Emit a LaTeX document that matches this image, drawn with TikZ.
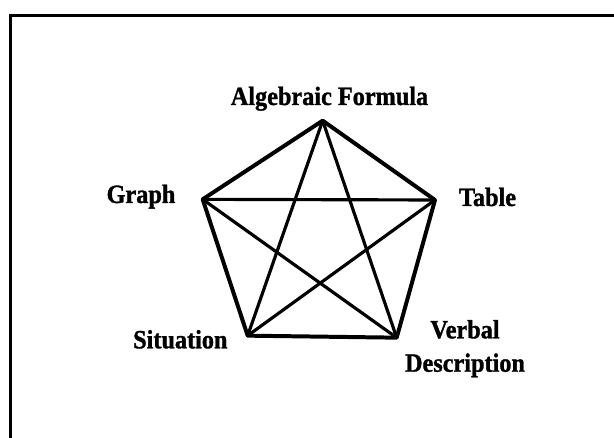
\documentclass[tikz,border=0pt]{standalone}
\usepackage{fontspec}
\setmainfont{Liberation Serif}
\newfontfamily\lblfont[FakeStretch=0.92,FakeBold=1.2]{Liberation Serif Bold}
\begin{document}
\begin{tikzpicture}[
  lbl/.style={font=\lblfont\fontsize{22.5}{28.5}\selectfont, inner sep=0pt},
  side/.style={line width=3.4pt, line cap=round, line join=round},
  diag/.style={line width=2.7pt, line cap=round}]
  \useasboundingbox (0,0) rectangle (18.42,13.14);
  % Frame (cut off at right and bottom)
  \draw[line width=3.2pt] (18.42,12.675) -- (0.315,12.675) -- (0.315,0);
  % Corners of the pentagon
  \coordinate (af) at (9.68,9.52);
  \coordinate (gr) at (6.08,7.16);
  \coordinate (tb) at (13.05,7.14);
  \coordinate (st) at (7.43,3.07);
  \coordinate (vd) at (11.90,3.01);
  % Labels
  \node[lbl,anchor=base] (afl) at (9.885,9.99) {Algebraic Formula};
  \node[lbl,anchor=base] (grl) at (4.23,7.05) {Graph};
  \node[lbl,anchor=base] (tbl) at (14.625,6.96) {Table};
  \node[lbl,anchor=base] (stl) at (5.41,2.69) {Situation};
  \node[lbl,align=center] (vdl) at (13.95,2.68) {Verbal\\Description};
  % Sides
  \draw[side] (af) -- (tb) -- (vd) -- (st) -- (gr) -- cycle;
  % Diagonals
  \draw[diag] (af) -- (st);
  \draw[diag] (af) -- (vd);
  \draw[diag] (gr) -- (tb);
  \draw[diag] (gr) -- (vd);
  \draw[diag] (tb) -- (st);
\end{tikzpicture}
\end{document}
